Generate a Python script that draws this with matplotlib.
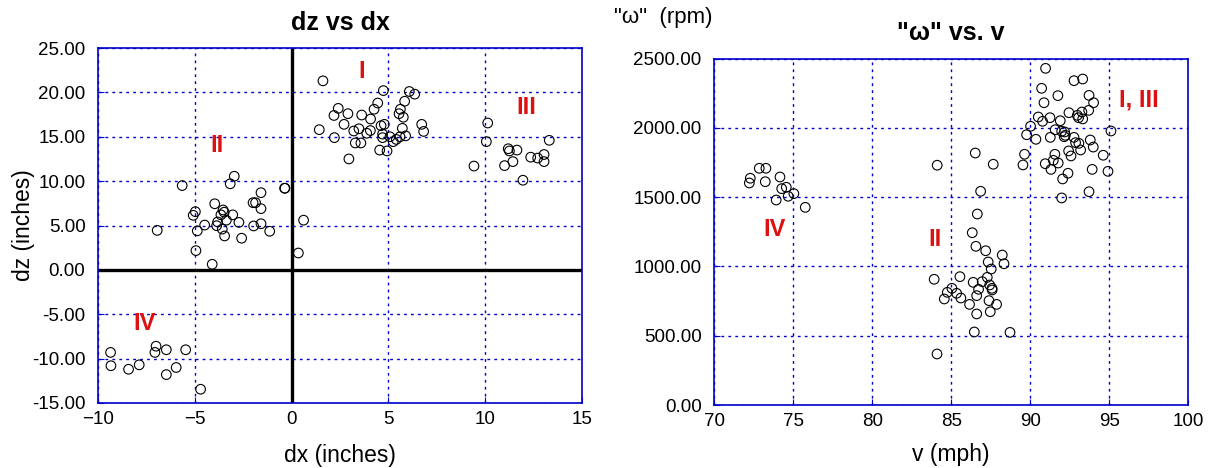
import numpy as np
import matplotlib
matplotlib.use('Agg')
import matplotlib.pyplot as plt

plt.rcParams['font.family'] = ['Liberation Sans', 'DejaVu Sans']

# ---- dz vs dx (inches) ----
dx_I = [1.62, 4.74, 6.08, 6.36, 5.84, 4.45, 4.26, 2.41, 2.19, 2.91, 3.62, 4.08,
        5.62, 5.55, 5.77, 2.71, 4.62, 4.79, 1.43, 3.21, 3.48, 4.07, 3.88, 4.70,
        4.70, 5.08, 5.41, 5.60, 5.72, 5.89, 5.25, 2.21, 3.29, 3.58, 4.55, 4.93,
        2.96, 6.72, 6.82]
dz_I = [21.3, 20.2, 20.1, 19.8, 19.0, 18.8, 18.1, 18.2, 17.4, 17.6, 17.45, 17.0,
        18.1, 17.6, 17.2, 16.4, 16.25, 16.4, 15.8, 15.65, 15.9, 15.7, 15.4, 15.3,
        14.9, 15.0, 14.7, 15.0, 15.95, 15.1, 14.45, 14.9, 14.3, 14.3, 13.5, 13.4,
        12.5, 16.4, 15.6]

dx_II = [-5.65, -2.96, -3.17, -0.34, -1.58, -3.97, -1.99, -1.86, -1.58, -4.97,
         -5.08, -3.54, -3.48, -3.65, -3.04, -3.82, -3.37, -2.72, -4.49, -3.87,
         -1.96, -1.58, -6.94, -4.87, -3.58, -1.13, -3.46, -2.58, -4.94, -4.10,
         -0.36, 0.62, 0.35]
dz_II = [9.5, 10.55, 9.7, 9.2, 8.7, 7.45, 7.57, 7.57, 6.9, 6.56,
         6.15, 6.75, 6.5, 6.2, 6.2, 5.4, 5.6, 5.35, 5.05, 4.98,
         4.95, 5.2, 4.45, 4.4, 4.6, 4.35, 3.82, 3.57, 2.17, 0.63,
         9.2, 5.6, 1.9]

dx_III = [10.13, 10.06, 9.42, 11.19, 11.25, 11.64, 11.0, 11.43, 11.95, 12.35,
          12.71, 13.04, 13.04, 13.31]
dz_III = [16.55, 14.45, 11.7, 13.65, 13.4, 13.5, 11.75, 12.2, 10.1, 12.7,
          12.6, 13.0, 12.2, 14.6]

dx_IV = [-9.35, -9.33, -8.42, -7.87, -7.0, -7.06, -6.47, -5.47, -6.47, -5.96, -4.70]
dz_IV = [-9.3, -10.8, -11.2, -10.7, -8.6, -9.3, -9.0, -9.0, -11.8, -11.0, -13.45]

# ---- "omega" (rpm) vs v (mph) ----
v_IV = [72.85, 73.27, 72.28, 72.22, 73.23, 74.16, 74.27, 74.56, 74.68, 75.04, 73.92, 75.76]
w_IV = [1708, 1708, 1636, 1602, 1611, 1645, 1561, 1571, 1506, 1525, 1479, 1426]

v_II = [84.11, 86.52, 87.66, 86.86, 86.65, 86.33, 86.56, 87.18, 88.23, 87.34,
        88.34, 87.53, 83.92, 85.55, 87.28, 86.39, 86.96, 87.43, 87.58, 87.59,
        86.73, 86.61, 85.04, 84.75, 85.34, 84.56, 85.61, 86.16, 87.39, 87.87,
        86.61, 87.47, 86.46, 88.72, 84.10]
w_II = [1730, 1818, 1737, 1542, 1378, 1243, 1145, 1113, 1082, 1032,
        1019, 981, 907, 926, 921, 885, 890, 866, 842, 830,
        835, 789, 842, 813, 806, 765, 772, 726, 753, 726,
        657, 673, 527, 524, 368]

v_I = [90.97, 92.77, 93.32, 90.72, 91.75, 93.72, 94.01, 90.87, 92.45, 93.70,
       93.27, 92.98, 93.06, 93.32, 90.51, 91.25, 90.78, 91.90, 90.02, 95.11,
       91.58, 91.99, 92.18, 92.22, 92.15, 89.77, 90.36, 91.27, 92.77, 92.87,
       93.08, 93.80, 93.99, 92.43, 93.19, 92.58, 94.62, 91.56, 91.46, 91.77,
       90.95, 91.31, 93.92, 94.92, 92.39, 92.05, 93.72, 91.99, 89.64, 89.54]
w_I = [2429, 2340, 2352, 2285, 2232, 2234, 2181, 2181, 2109, 2126,
       2114, 2090, 2073, 2064, 2078, 2073, 2047, 2051, 2011, 1977,
       1986, 1975, 1970, 1946, 1936, 1950, 1917, 1931, 1931, 1893,
       1888, 1912, 1861, 1833, 1840, 1797, 1802, 1809, 1765, 1746,
       1741, 1700, 1700, 1686, 1672, 1631, 1539, 1494, 1809, 1732]

blue = '#0000cc'
red = '#dd1111'


def style_axes(ax):
	for s in ax.spines.values():
		s.set_color(blue)
		s.set_linewidth(1.2)
	ax.grid(True, color=blue, linestyle=(0, (2, 3)), linewidth=1.0)
	ax.set_axisbelow(True)
	ax.tick_params(direction='in', length=4, color=blue, labelsize=13.5)


def dots(ax, x, y):
	ax.scatter(x, y, s=48, facecolors='none', edgecolors='black', linewidths=0.8, zorder=3)


fig = plt.figure(figsize=(12.11, 4.68), dpi=100)

ax1 = fig.add_axes([0.0809, 0.1389, 0.3997, 0.7585])
style_axes(ax1)
ax1.axhline(0, color='black', lw=2.4, zorder=2)
ax1.axvline(0, color='black', lw=2.4, zorder=2)
for xs, ys in [(dx_I, dz_I), (dx_II, dz_II), (dx_III, dz_III), (dx_IV, dz_IV)]:
	dots(ax1, xs, ys)
ax1.set_xlim(-10, 15)
ax1.set_ylim(-15, 25)
ax1.set_xticks([-10, -5, 0, 5, 10, 15])
ax1.set_yticks(np.arange(-15, 26, 5))
ax1.yaxis.set_major_formatter(matplotlib.ticker.FormatStrFormatter('%.2f'))
ax1.tick_params(axis='y', pad=9)
ax1.tick_params(axis='x', pad=6)
ax1.set_xlabel('dx (inches)', fontsize=16.5, labelpad=11)
ax1.set_ylabel('dz (inches)', fontsize=16.5, labelpad=-2)
ax1.set_title('dz vs dx', fontsize=18, fontweight='bold', pad=13)
for lab, x, y in [('I', 3.6, 22.4), ('II', -3.85, 14.0), ('III', 12.1, 18.3), ('IV', -7.6, -6.0)]:
	ax1.text(x, y, lab, color=red, fontsize=17, fontweight='bold', ha='center', va='center')

ax2 = fig.add_axes([0.5898, 0.1346, 0.3914, 0.7404])
style_axes(ax2)
for xs, ys in [(v_IV, w_IV), (v_II, w_II), (v_I, w_I)]:
	dots(ax2, xs, ys)
ax2.set_xlim(70, 100)
ax2.set_ylim(0, 2500)
ax2.set_xticks(np.arange(70, 101, 5))
ax2.set_yticks(np.arange(0, 2501, 500))
ax2.yaxis.set_major_formatter(matplotlib.ticker.FormatStrFormatter('%.2f'))
ax2.tick_params(axis='y', pad=9)
ax2.tick_params(axis='x', pad=6)
ax2.set_xlabel('v (mph)', fontsize=16.5, labelpad=9)
ax2.set_title('"\u03c9" vs. v', fontsize=18, fontweight='bold', pad=13)
fig.text(614 / 1211, 1 - 18 / 468, '"\u03c9"  (rpm)', fontsize=16, ha='left', va='center')
for lab, x, y in [('IV', 73.8, 1265), ('II', 84.0, 1195), ('I, III', 96.9, 2200)]:
	ax2.text(x, y, lab, color=red, fontsize=17, fontweight='bold', ha='center', va='center')

fig.savefig('out.png', dpi=100)
